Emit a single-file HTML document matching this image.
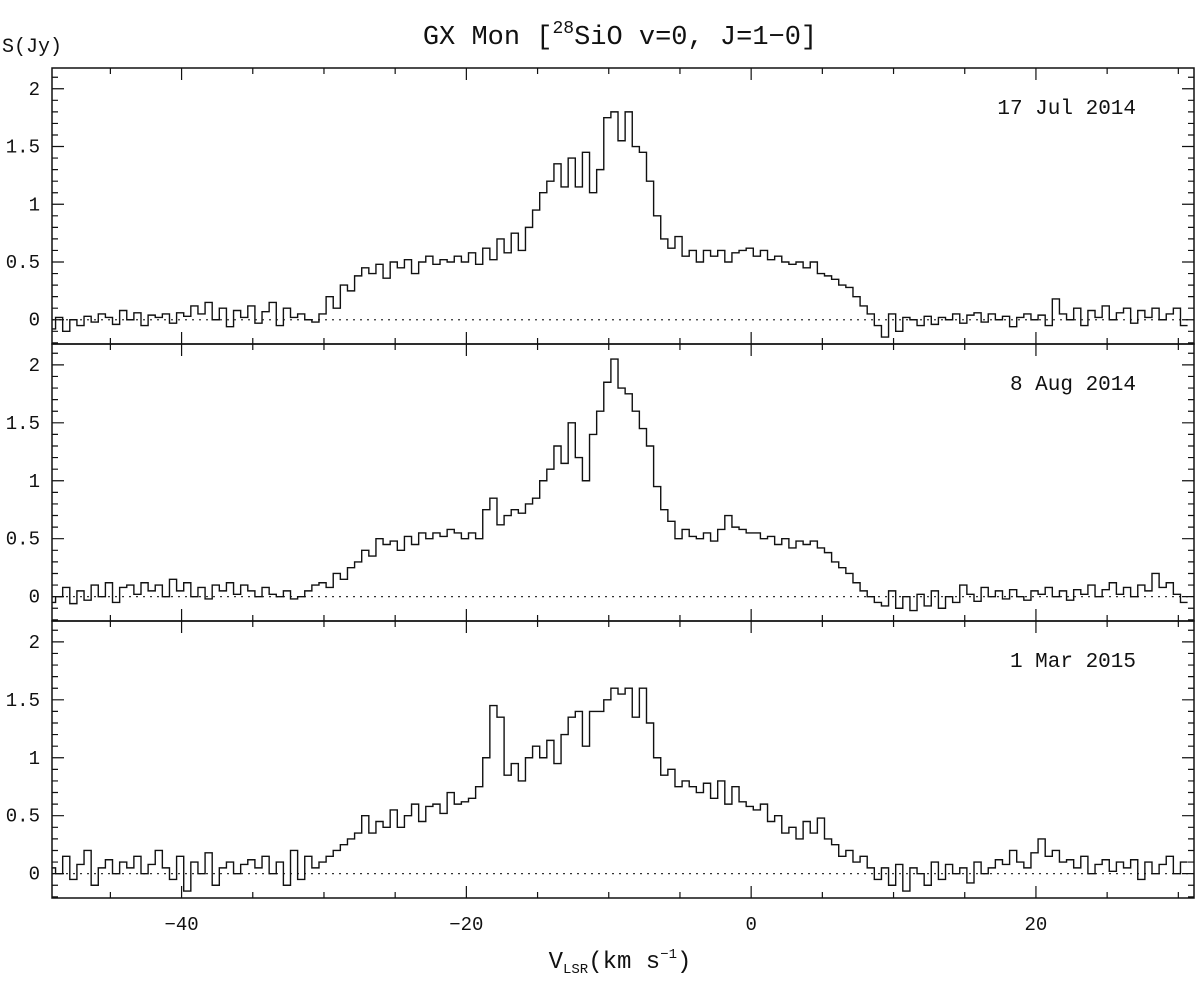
<!DOCTYPE html>
<html><head><meta charset="utf-8"><style>
body{margin:0;background:#fff}
svg text{font-family:"Liberation Mono",monospace;fill:#111}
</style></head><body>
<svg id="c" width="1200" height="979" xmlns="http://www.w3.org/2000/svg">
<text x="620" y="44" font-size="27" text-anchor="middle">GX Mon [<tspan font-size="18" dy="-11">28</tspan><tspan dy="11">SiO v=0, J=1−0]</tspan></text>
<text x="2" y="52" font-size="20">S(Jy)</text>
<text x="620" y="968" font-size="24" text-anchor="middle">V<tspan font-size="14" dy="5">LSR</tspan><tspan dy="-5">(km s</tspan><tspan font-size="14" dy="-10">−1</tspan><tspan dy="10">)</tspan></text>
</svg>
<script>
const vStart = -49.6, vStep = 0.5;
const xTicks = [-40,-20,0,20];
const yTicks = [0,0.5,1,1.5,2];
const yTickLabels = ["0","0.5","1","1.5","2"];
const dates = ["17 Jul 2014","8 Aug 2014","1 Mar 2015"];
const fluxJul2014 = [-0.05,-0.08,0.02,-0.1,0.0,-0.05,0.03,-0.02,0.05,0.02,-0.04,0.08,0.0,0.06,-0.05,0.04,0.02,0.05,-0.03,0.06,0.03,0.12,0.05,0.15,0.0,0.1,-0.06,0.08,0.02,0.12,-0.03,0.07,0.15,-0.05,0.1,0.02,0.05,0.0,-0.02,
0.05,0.2,0.1,0.3,0.25,0.38,
0.45,0.4,0.48,0.36,0.5,0.45,0.52,0.4,0.5,0.55,0.48,0.52,0.5,0.55,
0.5,0.58,0.48,0.62,0.52,0.7,0.58,0.75,0.6,0.8,
0.95,1.1,1.2,1.35,1.15,1.4,
1.15,1.45,1.1,1.3,
1.75,1.8,1.55,1.8,1.5,
1.45,1.2,0.9,0.7,0.62,0.72,
0.55,0.6,0.5,0.6,0.55,0.6,0.5,0.58,0.6,0.62,
0.55,0.6,0.52,0.55,0.5,0.48,0.5,0.45,0.5,0.4,
0.38,0.35,0.3,0.28,0.2,0.12,0.05,-0.05,
-0.15,0.05,-0.1,0.02,0.0,-0.05,0.03,-0.04,0.02,0.0,0.05,-0.03,0.04,0.06,-0.02,0.05,0.0,0.03,-0.06,0.02,0.05,0.0,0.04,-0.05,0.18,0.05,0.0,0.1,-0.05,0.08,0.02,0.12,0.0,0.06,0.1,-0.03,0.08,0.02,0.1,0.0,0.05,0.1,-0.05];
const fluxAug2014 = [0.05,-0.05,0.0,0.08,-0.06,0.05,-0.03,0.1,0.0,0.12,-0.05,0.08,0.1,0.02,0.12,0.05,0.1,0.0,0.15,0.05,0.12,0.0,0.08,-0.02,0.1,0.05,0.12,0.02,0.1,0.05,0.0,0.08,0.02,0.0,0.05,-0.02,0.0,0.05,0.1,
0.12,0.08,0.2,0.15,0.25,0.3,
0.4,0.35,0.5,0.45,0.48,0.4,0.52,0.45,0.55,0.5,0.55,0.52,0.58,0.55,
0.5,0.55,0.5,0.75,0.85,0.62,0.7,0.75,0.72,0.8,
0.85,1.0,1.1,1.3,1.15,1.5,
1.2,1.0,1.4,1.6,
1.85,2.05,1.8,1.75,1.6,
1.45,1.3,0.95,0.75,0.65,0.5,
0.58,0.52,0.5,0.55,0.48,0.58,0.7,0.6,0.58,0.55,
0.55,0.5,0.52,0.45,0.5,0.42,0.48,0.45,0.48,0.42,
0.38,0.3,0.25,0.2,0.12,0.05,0.0,-0.05,
-0.08,0.05,-0.1,0.0,-0.12,0.02,-0.08,0.05,-0.1,0.0,-0.05,0.1,0.02,-0.04,0.08,0.0,0.05,-0.02,0.06,0.0,-0.03,0.05,0.02,0.08,0.0,0.05,-0.03,0.06,0.02,0.1,0.0,0.06,0.12,0.02,0.08,0.0,0.1,0.05,0.2,0.08,0.12,0.02,-0.05];
const fluxMar2015 = [0.1,0.05,0.0,0.15,-0.05,0.08,0.2,-0.1,0.05,0.12,0.0,0.1,0.05,0.15,0.0,0.08,0.2,0.05,-0.05,0.15,-0.15,0.1,0.0,0.18,-0.1,0.05,0.1,0.0,0.08,0.12,0.05,0.15,0.0,0.1,-0.1,0.2,-0.05,0.15,0.05,
0.1,0.15,0.2,0.25,0.3,0.35,
0.5,0.35,0.45,0.4,0.55,0.4,0.5,0.6,0.45,0.58,0.6,0.52,0.7,0.6,
0.62,0.65,0.75,1.0,1.45,1.35,0.85,0.95,0.8,1.0,
1.1,1.0,1.15,0.95,1.2,1.35,
1.4,1.1,1.4,1.4,
1.5,1.6,1.55,1.6,1.35,
1.6,1.3,1.0,0.85,0.9,0.75,
0.8,0.75,0.7,0.78,0.65,0.8,0.6,0.75,0.62,0.58,
0.55,0.6,0.45,0.5,0.35,0.4,0.3,0.45,0.35,0.48,
0.3,0.25,0.15,0.2,0.1,0.15,0.05,-0.05,
0.05,-0.1,0.08,-0.15,0.05,0.0,-0.1,0.1,-0.05,0.08,0.0,0.05,-0.08,0.1,0.0,0.05,0.12,0.08,0.2,0.1,0.05,0.18,0.3,0.15,0.2,0.1,0.12,0.05,0.15,0.0,0.08,0.12,0.02,0.1,0.05,0.12,-0.05,0.1,0.0,0.08,0.15,0.0,0.1];
const series = [fluxJul2014, fluxAug2014, fluxMar2015];

const NS="http://www.w3.org/2000/svg", svg=document.getElementById('c');
const L=52,R=1194, vMin=-49.1, vMax=31.1, yMin=-0.21, yMax=2.18;
const tops=[68,344,621], bots=[344,621,898];
const X=v=>L+(v-vMin)/(vMax-vMin)*(R-L);
function mk(t,a){const e=document.createElementNS(NS,t);for(const k in a)e.setAttribute(k,a[k]);svg.appendChild(e);return e;}
const defs=document.createElementNS(NS,'defs');svg.appendChild(defs);
series.forEach((data,p)=>{
  const T=tops[p],B=bots[p];
  const Y=y=>B-(y-yMin)/(yMax-yMin)*(B-T);
  const cp=document.createElementNS(NS,'clipPath');cp.setAttribute('id','cp'+p);
  const cr=document.createElementNS(NS,'rect');cr.setAttribute('x',L);cr.setAttribute('y',T);cr.setAttribute('width',R-L);cr.setAttribute('height',B-T);
  cp.appendChild(cr);defs.appendChild(cp);
  const z=mk('line',{x1:L,x2:R,y1:Y(0),y2:Y(0),stroke:'#333','stroke-width':1.2,'stroke-dasharray':'2 5'});
  
  
  let d='';
  data.forEach((s,i)=>{const v=vStart+i*vStep;const x0=X(v-vStep/2),x1=X(v+vStep/2),y=Y(s);
    d+=(i===0?'M'+x0+','+y:'V'+y)+'H'+x1;});
  const pa=mk('path',{d:d,fill:'none',stroke:'#111','stroke-width':1.4,'clip-path':'url(#cp'+p+')'});
  
  
  const fr=mk('rect',{x:L,y:T,width:R-L,height:B-T,fill:'none',stroke:'#111','stroke-width':1.5});
  
  
  let td='';
  for(let v=-45;v<=30;v+=5){const x=X(v),len=(v%20===0)?12:6;td+=`M${x},${B}v${-len}M${x},${T}v${len}`;}
  for(let k=-2;k<=21;k++){const y=Y(k/10),len=(k%5===0)?12:6;td+=`M${L},${y}h${len}M${R},${y}h${-len}`;}
  const tk=mk('path',{d:td,stroke:'#111','stroke-width':1.2,fill:'none'});
  
  
  yTicks.forEach((t,j)=>{const tx=mk('text',{x:40,y:Y(t)+6,'font-size':19,'text-anchor':'end'});tx.textContent=yTickLabels[j];
    
    });
  const dt=mk('text',{x:1136,y:T+46,'font-size':21,'text-anchor':'end'});dt.textContent=dates[p];
  
  
});
xTicks.forEach(t=>{const tx=mk('text',{x:X(t),y:930,'font-size':19,'text-anchor':'middle'});tx.textContent=t<0?'−'+(-t):String(t);
  
  });
</script>
</body></html>
